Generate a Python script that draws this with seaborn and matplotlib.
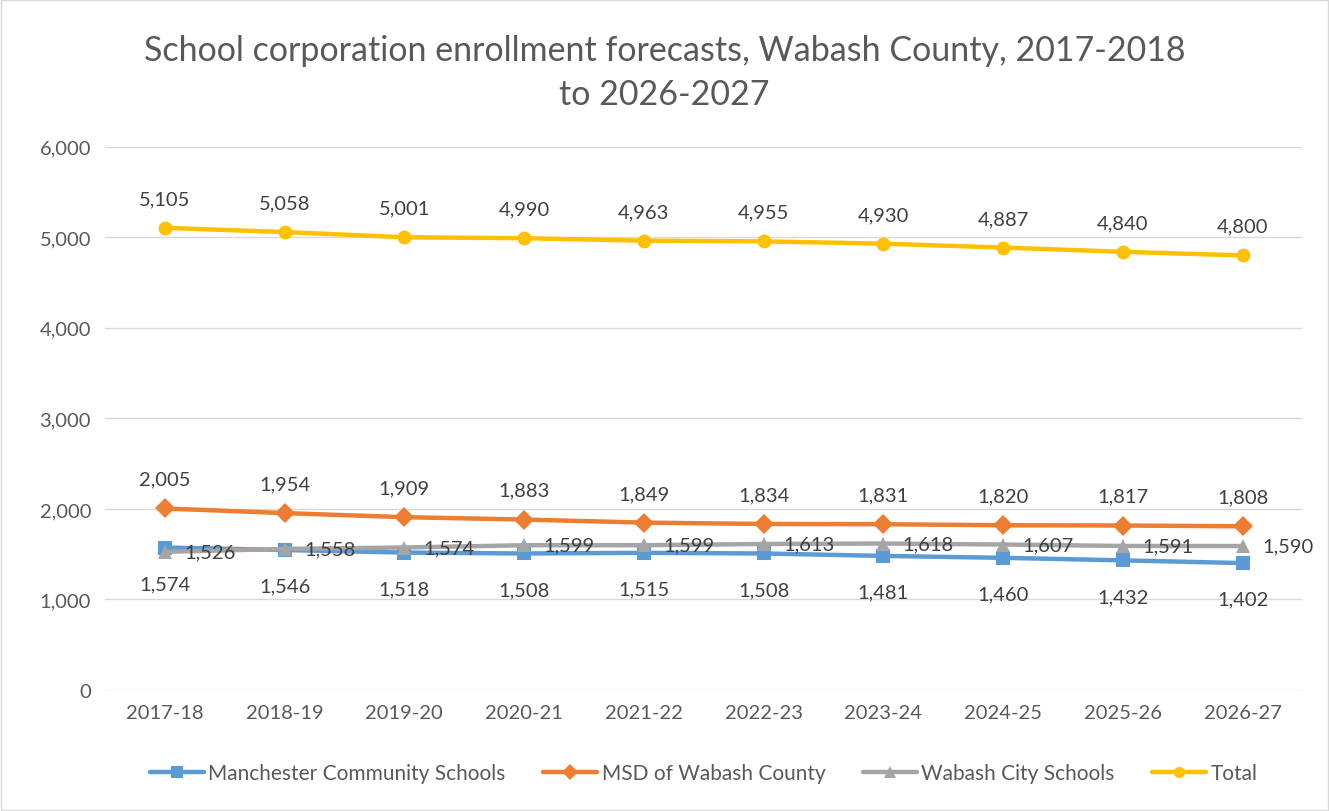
import numpy as np
import pandas as pd
import matplotlib.pyplot as plt
import seaborn as sns
from matplotlib.patches import Rectangle

years = ["2017-18", "2018-19", "2019-20", "2020-21", "2021-22",
         "2022-23", "2023-24", "2024-25", "2025-26", "2026-27"]
manchester = [1574, 1546, 1518, 1508, 1515, 1508, 1481, 1460, 1432, 1402]
msd = [2005, 1954, 1909, 1883, 1849, 1834, 1831, 1820, 1817, 1808]
wabash_city = [1526, 1558, 1574, 1599, 1599, 1613, 1618, 1607, 1591, 1590]
total = [5105, 5058, 5001, 4990, 4963, 4955, 4930, 4887, 4840, 4800]

series = {
    "Manchester Community Schools": manchester,
    "MSD of Wabash County": msd,
    "Wabash City Schools": wabash_city,
    "Total": total,
}
colors = ["#5B9BD5", "#ED7D31", "#A5A5A5", "#FFC000"]
markers = ["s", "D", "^", "o"]
# where each series puts its data labels: (dx, dy) in points, ha, va
label_pos = [(0, -26, "center", "center"), (0, 21, "center", "center"),
             (14, 0, "left", "center"), (0, 21, "center", "center")]

df = pd.DataFrame([
    {"year": y, "value": v, "series": name}
    for name, vals in series.items() for y, v in zip(years, vals)
])
df["x"] = df["year"].map({y: i for i, y in enumerate(years)})

sns.set_style("white")
plt.rcParams["font.family"] = ["Lato", "DejaVu Sans"]

fig = plt.figure(figsize=(13.29, 8.12), dpi=100)
ax = fig.add_axes([0.079, 0.149, 0.901, 0.669])

sns.lineplot(data=df, x="x", y="value", hue="series", style="series",
             palette=colors, markers=markers, dashes=False, linewidth=3.2,
             markersize=10, markeredgewidth=0, ax=ax)

for i, (name, vals) in enumerate(series.items()):
    dx, dy, ha, va = label_pos[i]
    for x, v in enumerate(vals):
        ax.annotate(f"{v:,}", (x, v), xytext=(dx, dy), textcoords="offset points",
                    ha=ha, va=va, fontsize=14.5, color="#404040")

ax.set_xlim(-0.5, len(years) - 0.5)
ax.set_ylim(0, 6000)
ax.set_yticks(np.arange(0, 6001, 1000))
ax.yaxis.set_major_formatter(plt.FuncFormatter(lambda v, p: f"{int(v):,}"))
ax.set_xticks(range(len(years)))
ax.set_xticklabels(years)
ax.tick_params(axis="both", labelsize=14.5, colors="#595959", length=0, pad=10)
ax.grid(axis="y", color="#D9D9D9", linewidth=1)
ax.set_axisbelow(True)
for s in ax.spines.values():
    s.set_visible(False)
ax.set_xlabel("")
ax.set_ylabel("")

ax.legend(loc="upper center", bbox_to_anchor=(0.5, -0.1), ncol=4, frameon=False,
          fontsize=15, handlelength=2.6, handletextpad=0.2, columnspacing=1.8,
          labelcolor="#595959", markerscale=0.8)

fig.suptitle("School corporation enrollment forecasts, Wabash County, 2017-2018\nto 2026-2027",
             y=0.957, fontsize=24.5, color="#595959", linespacing=1.45)

fig.patches.append(Rectangle((0.001, 0.001), 0.998, 0.998, transform=fig.transFigure,
                             fill=False, edgecolor="#D9D9D9", linewidth=1))

fig.savefig("out.png", dpi=100)
